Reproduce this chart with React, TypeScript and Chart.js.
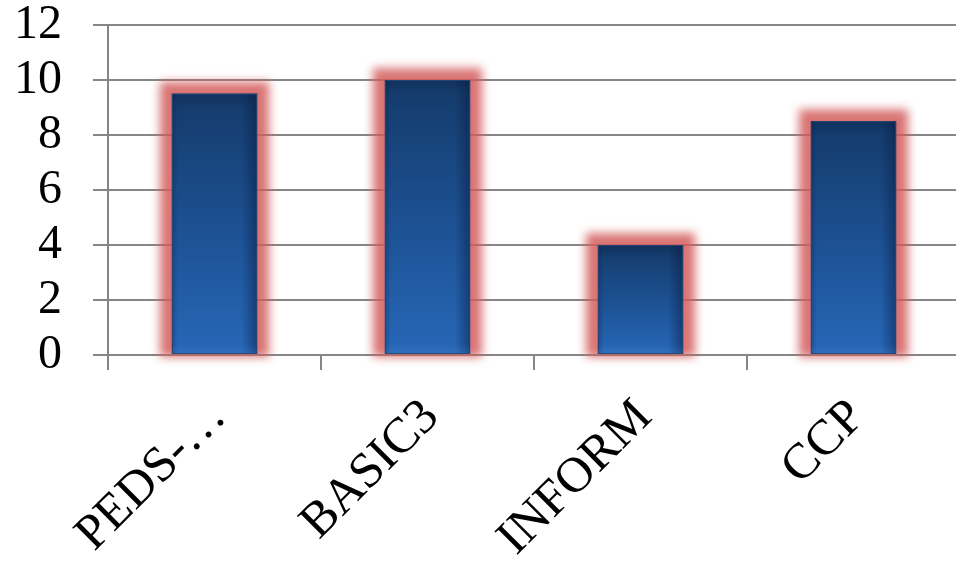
import { useEffect, useRef } from "react";
import { Chart, registerables } from "chart.js";

Chart.register(...registerables);

// Chart data
const categories = ["PEDS-…", "BASIC3", "INFORM", "CCP"];
const values = [9.5, 10, 4, 8.5];
const yTickValues = [0, 2, 4, 6, 8, 10, 12];

const AXIS_GRAY = "#868686";
const FONT_FAMILY = "'Liberation Serif', 'Times New Roman', serif";

// Soft red halo behind each bar, then a glossy blue fill on top of the bar elements.
const barStyle = {
  id: "barStyle",
  beforeDatasetsDraw(chart: any) {
    const { ctx } = chart;
    const meta = chart.getDatasetMeta(0);
    ctx.save();
    ctx.filter = "blur(5px)";
    ctx.fillStyle = "rgba(212, 92, 92, 0.85)";
    meta.data.forEach((el: any) => {
      const { x, y, base, width } = el.getProps(["x", "y", "base", "width"], true);
      const l = x - width / 2 - 12;
      const r = x + width / 2 + 12;
      const t = y - 12;
      const b = base + 3;
      ctx.fillRect(l, t, r - l, b - t);
    });
    ctx.restore();
  },
  afterDatasetsDraw(chart: any) {
    const { ctx } = chart;
    const meta = chart.getDatasetMeta(0);
    ctx.save();
    meta.data.forEach((el: any) => {
      const { x, y, base, width } = el.getProps(["x", "y", "base", "width"], true);
      const l = x - width / 2;
      const r = x + width / 2;
      const h = base - y;

      const v = ctx.createLinearGradient(0, y, 0, base);
      v.addColorStop(0, "#143a69");
      v.addColorStop(0.5, "#1c5091");
      v.addColorStop(1, "#2767b7");
      ctx.fillStyle = v;
      ctx.fillRect(l, y, width, h);

      const s = ctx.createLinearGradient(l, 0, r, 0);
      s.addColorStop(0, "rgba(8, 28, 66, 0.3)");
      s.addColorStop(0.07, "rgba(8, 28, 66, 0)");
      s.addColorStop(0.82, "rgba(8, 28, 66, 0)");
      s.addColorStop(1, "rgba(8, 28, 66, 0.5)");
      ctx.fillStyle = s;
      ctx.fillRect(l, y, width, h);

      const t = ctx.createLinearGradient(0, y, 0, y + 14);
      t.addColorStop(0, "rgba(8, 28, 66, 0.3)");
      t.addColorStop(1, "rgba(8, 28, 66, 0)");
      ctx.fillStyle = t;
      ctx.fillRect(l, y, width, Math.min(14, h));

      const bt = ctx.createLinearGradient(0, base - 10, 0, base);
      bt.addColorStop(0, "rgba(80, 140, 210, 0)");
      bt.addColorStop(1, "rgba(80, 140, 210, 0.25)");
      ctx.fillStyle = bt;
      ctx.fillRect(l, base - 10, width, 10);

      ctx.strokeStyle = "rgba(40, 70, 112, 0.9)";
      ctx.lineWidth = 1;
      ctx.strokeRect(l + 0.5, y + 0.5, width - 1, h - 1);
    });
    ctx.restore();
  },
};

export default function App() {
  const canvasRef = useRef<HTMLCanvasElement | null>(null);

  useEffect(() => {
    if (!canvasRef.current) return;
    const chart = new Chart(canvasRef.current, {
      type: "bar",
      data: {
        labels: categories,
        datasets: [
          {
            data: values,
            backgroundColor: "#1d5396",
            borderWidth: 0,
            categoryPercentage: 1,
            barPercentage: 0.4,
          },
        ],
      },
      options: {
        animation: false,
        responsive: true,
        maintainAspectRatio: false,
        layout: { padding: { top: 25, left: 0, right: 0, bottom: 0 } },
        plugins: {
          legend: { display: false },
          tooltip: { enabled: false },
        },
        scales: {
          x: {
            offset: true,
            grid: {
              display: true,
              offset: true,
              drawOnChartArea: false,
              drawTicks: true,
              tickLength: 15,
              color: AXIS_GRAY,
              lineWidth: 2,
            },
            border: { display: true, color: AXIS_GRAY, width: 2 },
            ticks: {
              color: "#000",
              font: { family: FONT_FAMILY, size: 50 },
              minRotation: 45,
              maxRotation: 45,
              autoSkip: false,
              padding: 18,
              labelOffset: 4,
            },
            afterFit: (s: any) => {
              s.height = 216;
              s.paddingLeft = 0;
              s.paddingRight = 0;
            },
          },
          y: {
            min: 0,
            max: 12,
            afterBuildTicks: (s: any) => {
              s.ticks = yTickValues.map((v) => ({ value: v }));
            },
            grid: {
              color: AXIS_GRAY,
              lineWidth: 2,
              drawTicks: true,
              tickLength: 15,
            },
            border: { display: true, color: AXIS_GRAY, width: 2 },
            ticks: {
              color: "#000",
              font: { family: FONT_FAMILY, size: 48 },
              padding: 31,
              autoSkip: false,
            },
            afterFit: (s: any) => {
              s.width = 108;
              s.paddingTop = 0;
              s.paddingBottom = 0;
            },
          },
        },
      },
      plugins: [barStyle],
    });
    return () => chart.destroy();
  }, []);

  return (
    <div
      style={{
        position: "fixed",
        left: 0,
        top: 0,
        width: 956,
        height: 571,
        overflow: "hidden",
        background: "#fff",
      }}
    >
      <div style={{ position: "relative", width: 960, height: 571 }}>
        <canvas ref={canvasRef} />
      </div>
    </div>
  );
}
